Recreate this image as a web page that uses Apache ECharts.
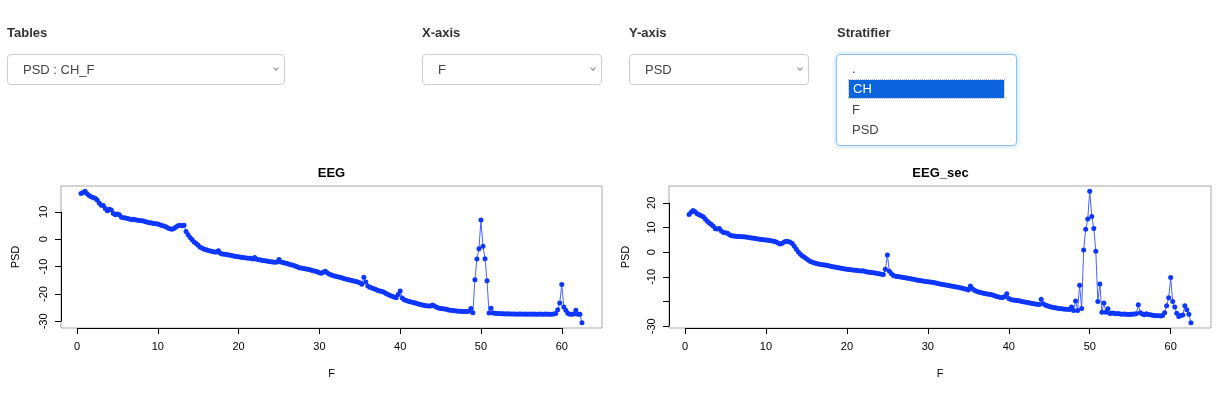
<!DOCTYPE html>
<html>
<head>
<meta charset="utf-8">
<script src="https://cdn.jsdelivr.net/npm/echarts@6/dist/echarts.min.js"></script>
<style>
  html, body { margin:0; padding:0; background:#fff; }
  body { width:1226px; height:394px; position:relative; overflow:hidden; font-family:"Liberation Sans", Arial, Helvetica, sans-serif; color:#333; }
  #chart { position:absolute; left:0; top:0; width:1226px; height:394px; }
  .lbl { position:absolute; top:24px; font-size:13px; font-weight:700; color:#333; line-height:18px; }
  .sel { position:absolute; top:54px; height:29px; border:1px solid #ccc; border-radius:4px; background:#fff; box-sizing:content-box; }
  .sel .txt { position:absolute; left:15px; top:7px; font-size:13px; line-height:16px; color:#444; }
  .sel .chev { position:absolute; right:6px; top:11px; width:3px; height:3px; border-right:1px solid #888; border-bottom:1px solid #888; transform:rotate(45deg); }
  .list { position:absolute; left:836px; top:54px; width:179px; height:90px; border:1px solid #8cc2ef; border-radius:4px; background:#fff; box-shadow:0 0 5px rgba(102,175,233,0.55); }
  .opt { position:absolute; left:15px; font-size:13px; line-height:18px; color:#444; }
  .hl { position:absolute; left:12px; top:25px; width:155px; height:18px; background:#0b63de; outline:1px dotted #9bb8e8; }
  .hl span { position:absolute; left:4px; top:0; font-size:13px; line-height:18px; color:#fff; }
</style>
</head>
<body>
<div id="chart"></div>

<div class="lbl" style="left:7px">Tables</div>
<div class="sel" style="left:7px;width:276px"><span class="txt">PSD : CH_F</span><span class="chev"></span></div>

<div class="lbl" style="left:422px">X-axis</div>
<div class="sel" style="left:422px;width:178px"><span class="txt">F</span><span class="chev"></span></div>

<div class="lbl" style="left:629px">Y-axis</div>
<div class="sel" style="left:629px;width:178px"><span class="txt">PSD</span><span class="chev"></span></div>

<div class="lbl" style="left:837px">Stratifier</div>
<div class="list">
  <div class="opt" style="top:5px">.</div>
  <div class="hl"><span>CH</span></div>
  <div class="opt" style="top:46px">F</div>
  <div class="opt" style="top:66px">PSD</div>
</div>

<script>
// Frequency (F) values shared by both panels
var F = [
0.5,0.75,
1,1.25,1.5,1.75,
2,2.25,2.5,2.75,
3,3.25,3.5,3.75,
4,4.25,4.5,4.75,
5,5.25,5.5,5.75,
6,6.25,6.5,6.75,
7,7.25,7.5,7.75,
8,8.25,8.5,8.75,
9,9.25,9.5,9.75,
10,10.25,10.5,10.75,
11,11.25,11.5,11.75,
12,12.25,12.5,12.75,
13,13.25,13.5,13.75,
14,14.25,14.5,14.75,
15,15.25,15.5,15.75,
16,16.25,16.5,16.75,
17,17.25,17.5,17.75,
18,18.25,18.5,18.75,
19,19.25,19.5,19.75,
20,20.25,20.5,20.75,
21,21.25,21.5,21.75,
22,22.25,22.5,22.75,
23,23.25,23.5,23.75,
24,24.25,24.5,24.75,
25,25.25,25.5,25.75,
26,26.25,26.5,26.75,
27,27.25,27.5,27.75,
28,28.25,28.5,28.75,
29,29.25,29.5,29.75,
30,30.25,30.5,30.75,
31,31.25,31.5,31.75,
32,32.25,32.5,32.75,
33,33.25,33.5,33.75,
34,34.25,34.5,34.75,
35,35.25,35.5,35.75,
36,36.25,36.5,36.75,
37,37.25,37.5,37.75,
38,38.25,38.5,38.75,
39,39.25,39.5,39.75,
40,40.25,40.5,40.75,
41,41.25,41.5,41.75,
42,42.25,42.5,42.75,
43,43.25,43.5,43.75,
44,44.25,44.5,44.75,
45,45.25,45.5,45.75,
46,46.25,46.5,46.75,
47,47.25,47.5,47.75,
48,48.25,48.5,48.75,
49,49.25,49.5,49.75,
50,50.25,50.5,50.75,
51,51.25,51.5,51.75,
52,52.25,52.5,52.75,
53,53.25,53.5,53.75,
54,54.25,54.5,54.75,
55,55.25,55.5,55.75,
56,56.25,56.5,56.75,
57,57.25,57.5,57.75,
58,58.25,58.5,58.75,
59,59.25,59.5,59.75,
60,60.25,60.5,60.75,
61,61.25,61.5,61.75,
62,62.25,62.5
];

// PSD, panel "EEG"
var psdEEG = [
16.7,17.0,
17.5,16.6,15.9,15.5,
15.2,14.9,14.3,13.2,
12.4,12.3,11.2,10.4,
10.9,10.6,9.4,8.9,
9.2,8.9,8.0,7.8,
7.7,7.5,7.4,7.1,
7.3,7.1,6.9,6.8,
6.7,6.6,6.4,6.2,
6.0,5.9,5.7,5.6,
5.5,5.3,5.0,4.8,
4.5,4.1,3.8,3.6,
3.9,4.4,4.9,5.1,
4.9,5.1,2.8,1.6,
0.6,-0.2,-1.0,-1.6,
-2.2,-2.9,-3.3,-3.7,
-3.9,-4.1,-4.3,-4.5,
-4.7,-4.7,-4.2,-5.1,
-5.4,-5.5,-5.6,-5.8,
-5.9,-6.0,-6.2,-6.3,
-6.4,-6.6,-6.7,-6.8,
-6.9,-7.0,-7.0,-7.2,
-6.7,-7.3,-7.5,-7.6,
-7.8,-7.9,-8.0,-8.1,
-8.2,-8.3,-8.4,-8.3,
-7.4,-8.3,-8.5,-8.7,
-8.9,-9.1,-9.3,-9.5,
-9.8,-10.1,-10.4,-10.5,
-10.7,-10.8,-11.0,-11.1,
-11.3,-11.5,-11.7,-11.9,
-12.2,-12.4,-12.0,-11.7,
-12.3,-12.8,-13.1,-13.3,
-13.5,-13.7,-13.9,-14.1,
-14.3,-14.5,-14.7,-14.9,
-15.1,-15.3,-15.4,-15.6,
-15.9,-16.4,-13.9,-15.6,
-17.1,-17.5,-17.8,-18.1,
-18.4,-18.7,-18.9,-19.1,
-19.4,-19.8,-20.2,-20.5,
-20.8,-21.1,-21.4,-20.2,
-18.9,-21.5,-22.1,-22.4,
-22.6,-22.8,-23.0,-23.2,
-23.4,-23.6,-23.8,-24.0,
-24.2,-24.3,-24.4,-24.4,
-24.0,-24.4,-24.8,-25.1,
-25.3,-25.4,-25.5,-25.6,
-25.8,-25.9,-26.0,-26.1,
-26.2,-26.3,-26.3,-26.4,
-26.4,-26.4,-26.3,-25.3,
-26.8,-14.8,-7.2,-3.5,
7.0,-2.6,-7.1,-15.2,
-26.9,-25.2,-26.9,-27.0,
-27.1,-27.1,-27.2,-27.2,
-27.3,-27.2,-27.3,-27.3,
-27.3,-27.3,-27.4,-27.3,
-27.3,-27.4,-27.3,-27.4,
-27.3,-27.4,-27.3,-27.4,
-27.4,-27.3,-27.4,-27.4,
-27.3,-27.4,-27.4,-27.4,
-27.3,-27.1,-25.7,-23.3,
-16.5,-24.7,-25.9,-27.0,
-27.4,-27.4,-27.3,-25.9,
-27.4,-27.4,-30.5
];

// PSD, panel "EEG_sec"
var psdEEGsec = [
15.3,16.2,
16.9,16.4,15.6,15.2,
14.8,14.3,13.4,12.5,
11.8,11.2,10.5,9.5,
9.4,9.6,8.6,8.0,
7.9,7.7,7.1,6.7,
6.6,6.5,6.4,6.4,
6.3,6.3,6.1,6.0,
5.8,5.7,5.6,5.5,
5.3,5.2,5.1,5.0,
4.9,4.8,4.7,4.5,
4.4,4.1,3.7,3.3,
3.6,4.1,4.4,4.3,
4.0,3.5,2.4,1.2,
0.1,-0.8,-1.5,-2.1,
-2.7,-3.3,-3.8,-4.1,
-4.4,-4.6,-4.8,-5.0,
-5.1,-5.2,-5.3,-5.5,
-5.7,-5.9,-6.0,-6.2,
-6.3,-6.5,-6.6,-6.8,
-6.9,-7.0,-7.1,-7.2,
-7.3,-7.4,-7.5,-7.6,
-7.5,-7.8,-8.0,-8.1,
-8.2,-8.3,-8.4,-8.6,
-8.7,-8.9,-9.0,-6.9,
-1.1,-7.7,-8.7,-9.4,
-9.7,-9.8,-9.9,-10.1,
-10.3,-10.4,-10.6,-10.7,
-10.9,-11.0,-11.2,-11.4,
-11.5,-11.6,-11.8,-11.9,
-12.0,-12.1,-12.2,-12.3,
-12.5,-12.7,-12.9,-13.0,
-13.2,-13.3,-13.5,-13.6,
-13.8,-13.9,-14.1,-14.2,
-14.4,-14.6,-14.8,-15.0,
-15.3,-13.7,-14.8,-15.4,
-15.8,-16.1,-16.3,-16.5,
-16.7,-16.8,-17.0,-17.1,
-17.3,-17.6,-17.9,-18.1,
-18.3,-18.4,-17.9,-16.8,
-18.8,-19.2,-19.4,-19.5,
-19.6,-19.7,-19.9,-20.1,
-20.2,-20.4,-20.5,-20.7,
-20.8,-21.0,-21.1,-21.2,
-19.1,-20.9,-21.4,-21.7,
-22.0,-22.2,-22.4,-22.5,
-22.7,-22.8,-22.9,-23.0,
-23.1,-23.1,-23.2,-22.2,
-23.6,-19.8,-23.6,-13.4,
-22.8,0.9,9.3,13.4,
24.7,14.5,9.6,0.4,
-20.0,-12.9,-24.3,-20.6,
-24.3,-22.9,-24.8,-24.6,
-24.7,-24.9,-24.8,-25.0,
-25.1,-25.0,-25.1,-25.2,
-25.1,-25.1,-25.0,-24.9,
-21.3,-24.5,-25.0,-25.3,
-24.9,-25.2,-25.3,-25.5,
-25.6,-25.7,-25.7,-25.8,
-25.6,-24.5,-21.7,-18.5,
-10.3,-20.0,-22.2,-24.7,
-26.0,-25.6,-25.4,-21.7,
-23.3,-25.1,-28.6
];

// Tick marks and tick labels
var xTicks = [0, 10, 20, 30, 40, 50, 60];
var yTicksEEG = [-30, -20, -10, 0, 10];
var yLabelsEEG = [-30, -20, -10, 0, 10];
var yTicksSec = [-30, -20, -10, 0, 10, 20];
var yLabelsSec = [-30, -10, 0, 10, 20];
var panelTitles = ['EEG', 'EEG_sec'];
var xTitle = 'F';
var yTitle = 'PSD';

var FONT = '"Liberation Sans", Arial, Helvetica, sans-serif';
var X_RANGE = [-1.98, 64.98];
var Y_RANGE_EEG = [-32.4, 19.4];
var Y_RANGE_SEC = [-30.7, 26.8];

function pairs(xs, ys) { return xs.map(function (x, i) { return [x, ys[i]]; }); }

function xAxisOpt(gi) {
  return {
    gridIndex: gi, type: 'value', min: X_RANGE[0], max: X_RANGE[1],
    splitLine: { show: false },
    axisLine: { show: false, onZero: false },
    axisTick: { show: true, length: 6, customValues: xTicks, lineStyle: { color: '#000', width: 1 } },
    axisLabel: { customValues: xTicks, margin: 13, fontSize: 11, color: '#000', fontFamily: FONT },
    name: xTitle, nameLocation: 'middle', nameGap: 40,
    nameTextStyle: { fontSize: 11, color: '#000', fontFamily: FONT }
  };
}
function yAxisOpt(gi, range, ticks, labels, gap) {
  return {
    gridIndex: gi, type: 'value', min: range[0], max: range[1],
    splitLine: { show: false },
    axisLine: { show: false, onZero: false },
    axisTick: { show: true, length: 6, customValues: ticks, lineStyle: { color: '#000', width: 1 } },
    axisLabel: { customValues: labels, rotate: 90, margin: 12, fontSize: 11, color: '#000', fontFamily: FONT },
    name: yTitle, nameLocation: 'middle', nameGap: gap, nameRotate: 90,
    nameTextStyle: { fontSize: 11, color: '#000', fontFamily: FONT }
  };
}
function seriesOpt(gi, ys, yRange, yTicks) {
  return {
    type: 'line', xAxisIndex: gi, yAxisIndex: gi,
    data: pairs(F, ys),
    symbol: 'circle', symbolSize: 5, showAllSymbol: true,
    itemStyle: { color: '#0d36ff' },
    lineStyle: { width: 1, color: '#4a63ff' },
    emphasis: { disabled: true },
    animation: false,
    markLine: {
      silent: true, symbol: ['none', 'none'], label: { show: false },
      lineStyle: { color: '#000', width: 1, type: 'solid' },
      animation: false,
      data: [
        [{ coord: [xTicks[0], yRange[0]] }, { coord: [xTicks[xTicks.length - 1], yRange[0]] }],
        [{ coord: [X_RANGE[0], yTicks[0]] }, { coord: [X_RANGE[0], yTicks[yTicks.length - 1]] }]
      ]
    }
  };
}

var chart = echarts.init(document.getElementById('chart'), null, { renderer: 'canvas' });
chart.setOption({
  animation: false,
  backgroundColor: 'transparent',
  grid: [
    { left: 61, top: 186, width: 541, height: 142, show: true, borderColor: '#a9a9a9', borderWidth: 1, backgroundColor: 'transparent' },
    { left: 669, top: 186, width: 542, height: 142, show: true, borderColor: '#a9a9a9', borderWidth: 1, backgroundColor: 'transparent' }
  ],
  graphic: [
    { type: 'text', x: 331.5, y: 173, style: { text: panelTitles[0], align: 'center', verticalAlign: 'middle', font: 'bold 13px ' + FONT, fill: '#000' } },
    { type: 'text', x: 940.5, y: 173, style: { text: panelTitles[1], align: 'center', verticalAlign: 'middle', font: 'bold 13px ' + FONT, fill: '#000' } }
  ],
  xAxis: [xAxisOpt(0), xAxisOpt(1)],
  yAxis: [
    yAxisOpt(0, Y_RANGE_EEG, yTicksEEG, yLabelsEEG, 40),
    yAxisOpt(1, Y_RANGE_SEC, yTicksSec, yLabelsSec, 38)
  ],
  series: [
    seriesOpt(0, psdEEG, Y_RANGE_EEG, yTicksEEG),
    seriesOpt(1, psdEEGsec, Y_RANGE_SEC, yTicksSec)
  ]
});
</script>
</body>
</html>
